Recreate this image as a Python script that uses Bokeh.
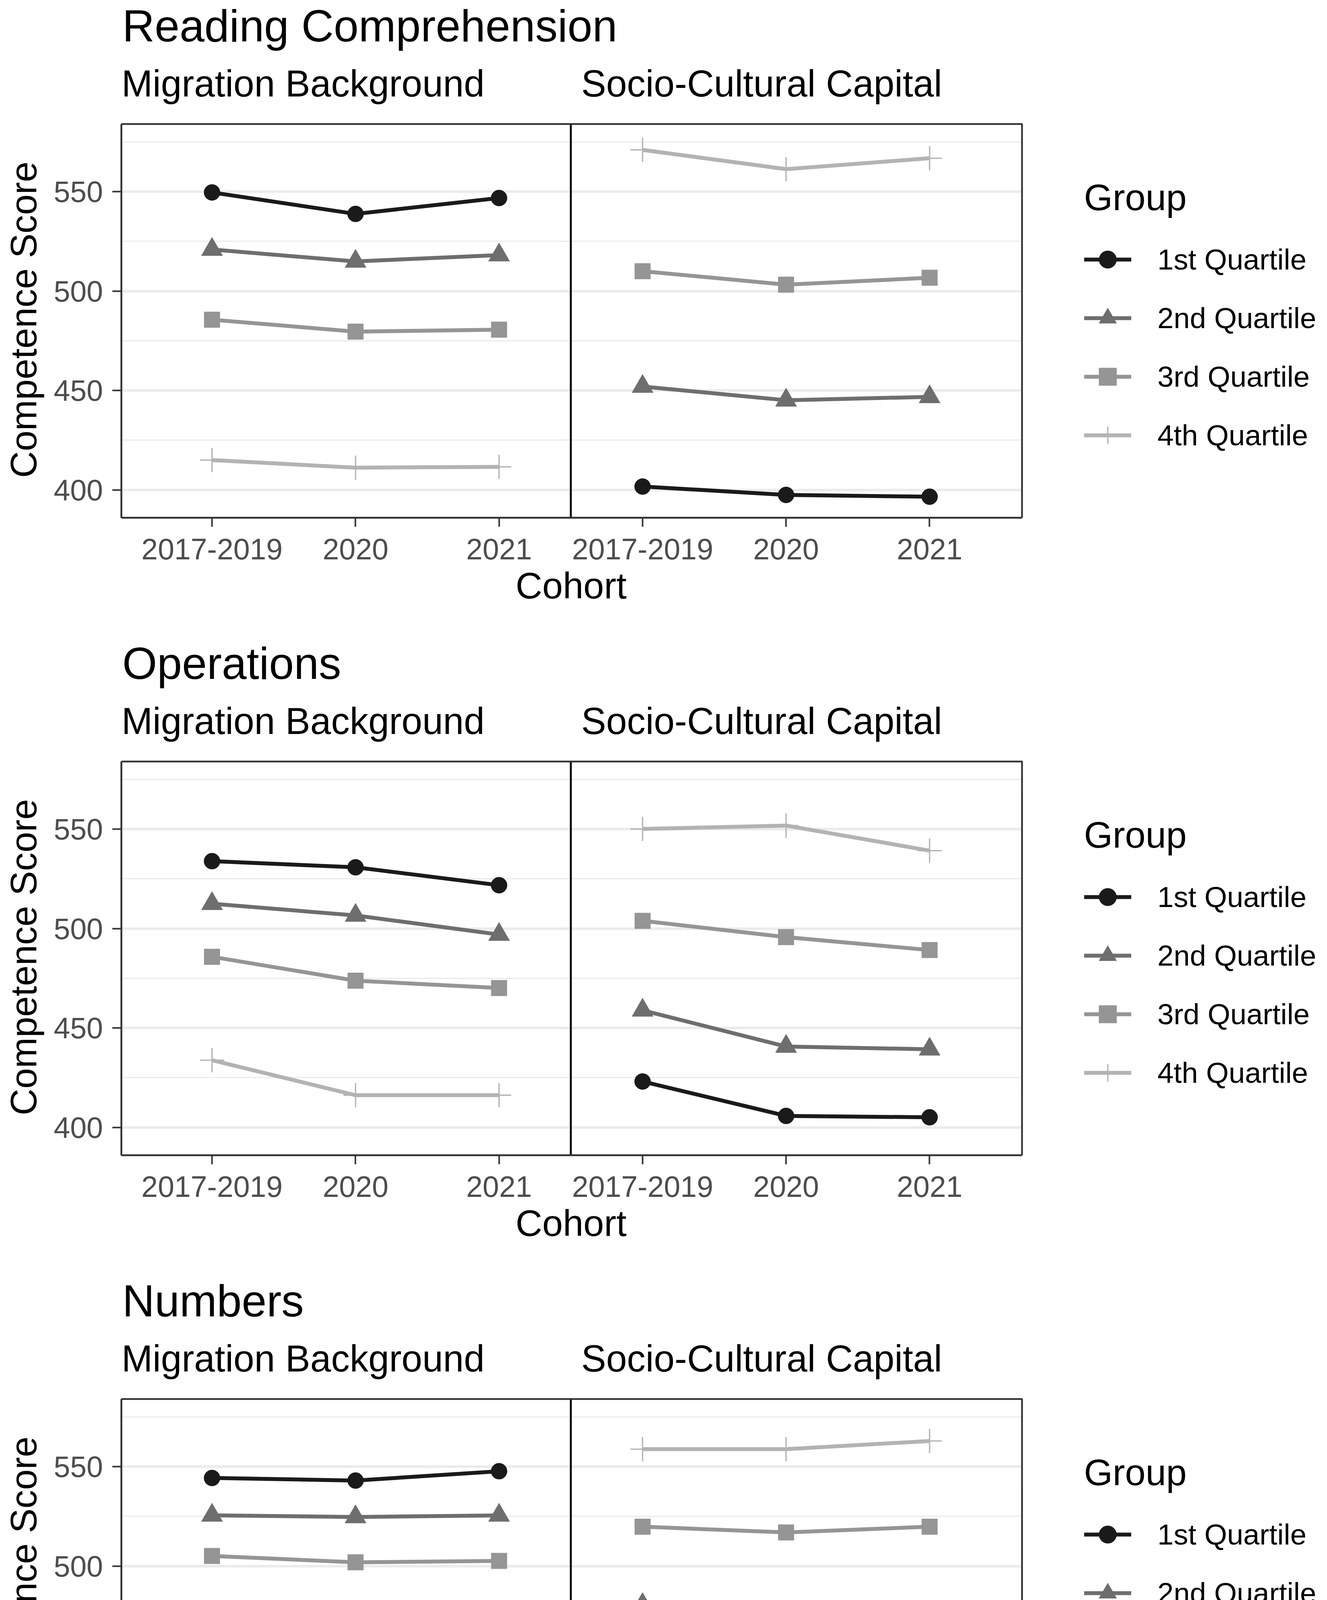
import math
from bokeh.plotting import figure
from bokeh.models import Legend, LegendItem, FixedTicker, Range1d, BoxAnnotation, Title
from bokeh.core.properties import value
from bokeh.layouts import column
from bokeh.embed import file_html
from bokeh.resources import INLINE

# ---------------- data ----------------
subjects = ["Reading Comprehension", "Operations", "Numbers"]
facets = ["Migration Background", "Socio-Cultural Capital"]
cohorts = ["2017-2019", "2020", "2021"]
groups = ["1st Quartile", "2nd Quartile", "3rd Quartile", "4th Quartile"]
y_ticks = [400, 450, 500, 550]
y_minor = [425, 475, 525, 575]

# first three = Migration Background cohorts, last three = Socio-Cultural Capital cohorts
reading_q1 = [549.6, 538.8, 546.8, 401.7, 397.5, 396.6]
reading_q2 = [520.9, 514.9, 518.1, 452.0, 445.1, 446.8]
reading_q3 = [485.6, 479.6, 480.6, 510.0, 503.2, 506.7]
reading_q4 = [415.0, 411.2, 411.6, 571.0, 561.3, 566.8]

operations_q1 = [533.9, 530.8, 521.8, 423.1, 405.8, 405.1]
operations_q2 = [512.5, 506.6, 497.0, 458.9, 440.7, 439.3]
operations_q3 = [485.8, 473.8, 470.1, 503.9, 495.7, 489.2]
operations_q4 = [433.8, 416.2, 416.2, 550.1, 551.8, 539.2]

numbers_q1 = [544.3, 543.0, 547.7, 451.6, 450.9, 442.7]
numbers_q2 = [525.5, 524.7, 525.5, 480.6, 476.2, 476.2]
numbers_q3 = [505.1, 501.9, 502.6, 519.8, 516.9, 519.8]
numbers_q4 = [460.6, 458.9, 454.1, 558.8, 558.8, 562.9]

series = {
    "Reading Comprehension": [reading_q1, reading_q2, reading_q3, reading_q4],
    "Operations": [operations_q1, operations_q2, operations_q3, operations_q4],
    "Numbers": [numbers_q1, numbers_q2, numbers_q3, numbers_q4],
}

# ---------------- style ----------------
FONT = "Liberation Sans"
colors = ["#1A1A1A", "#6E6E6E", "#959595", "#B3B3B3"]
markers = ["circle", "triangle", "square", "cross"]
msizes = [41, 54, 40, 62]

S = 3380 / 3396.0
W = 3380
HEIGHTS = [1632, 1632, 1568]
FL = round(311 * S)      # panel left
FR = round(2627 * S)     # panel right
FT = round(319 * S)      # panel top (within a block)
FB = round(1331 * S)     # panel bottom (within a block)
HT = FT - 6              # header height
X0, X1 = 0.368, 6.644
Y0, Y1 = 386.0, 584.0
KX = (FR - FL) / (X1 - X0)
KY = (FB - FT) / (Y1 - Y0)
X1E = X1 + (W - FR) / KX         # frame extends to the right edge (legend area)
Y1E = Y1 + (FT - HT) / KY        # a few px above the panel top


def fs(v):
    return f"{v * S:.1f}px"


def make_header(subject):
    h = figure(width=W, height=HT, x_range=Range1d(FL, W), y_range=Range1d(HT, 0),
               output_backend="svg", toolbar_location=None,
               x_axis_location=None, y_axis_location=None,
               min_border_left=0, min_border_right=0, min_border_top=0, min_border_bottom=0)
    h.grid.visible = False
    h.outline_line_color = None
    h.background_fill_color = "white"
    h.border_fill_color = "white"
    h.text(x=[314 * S], y=[(107 - 41) * S], text=[subject], text_font=value(FONT),
           text_font_size=fs(115), text_color="black", text_align="left",
           text_baseline="middle")
    h.text(x=[312 * S, 1494 * S], y=[(249 - 34) * S] * 2, text=facets, text_font=value(FONT),
           text_font_size=fs(96), text_color="black", text_align="left",
           text_baseline="middle")
    return h


def make_plot(subject, H):
    HM = H - HT
    p = figure(width=W, height=HM, x_range=Range1d(X0, X1E), y_range=Range1d(Y0, Y1E),
               output_backend="svg", toolbar_location=None,
               min_border_left=FL, min_border_right=0,
               min_border_top=0, min_border_bottom=H - FB)
    p.background_fill_color = "white"
    p.border_fill_color = "white"
    p.outline_line_color = None

    # axes
    p.xaxis.ticker = FixedTicker(ticks=[1, 2, 3, 4, 5, 6])
    p.xaxis.major_label_overrides = {i + 1: cohorts[i % 3] for i in range(6)}
    p.yaxis.ticker = FixedTicker(ticks=y_ticks, minor_ticks=y_minor)
    p.xaxis.bounds = (X0, X1)
    p.yaxis.bounds = (Y0, Y1)
    for ax in (p.xaxis, p.yaxis):
        ax.major_label_text_font = FONT
        ax.major_label_text_font_size = fs(76)
        ax.major_label_text_color = "#4D4D4D"
        ax.major_tick_in = 0
        ax.major_tick_out = 23
        ax.major_tick_line_width = 4
        ax.major_tick_line_color = "#333333"
        ax.minor_tick_line_color = None
        ax.axis_line_color = "#333333"
        ax.axis_line_width = 4.5
        ax.axis_label_text_font = FONT
        ax.axis_label_text_font_size = fs(95)
        ax.axis_label_text_font_style = "normal"
        ax.axis_label_text_color = "black"
    p.xaxis.major_label_standoff = 30
    p.yaxis.major_label_standoff = 24
    p.yaxis.axis_label = "Competence Score"
    p.yaxis.axis_label_standoff = 21

    # x axis title, centred under the panel (not under the legend area)
    text_w = 3.001 * 95 * S
    p.add_layout(Title(text="Cohort", align="left", offset=round(1468 * S - text_w / 2 - FL),
                       text_font=FONT, text_font_size=fs(95), text_font_style="normal",
                       text_color="black", vertical_align="top", standoff=23), "below")

    p.xgrid.visible = False
    p.ygrid.ticker = FixedTicker(ticks=y_ticks, minor_ticks=y_minor)
    p.ygrid.grid_line_color = "#EBEBEB"
    p.ygrid.grid_line_width = 6.5
    p.ygrid.minor_grid_line_color = "#EBEBEB"
    p.ygrid.minor_grid_line_width = 3.2

    # hide grid lines in the legend area (right of the panel)
    p.add_layout(BoxAnnotation(left=X1, right=X1E, bottom=Y0, top=Y1E, fill_color="white",
                               fill_alpha=1.0, line_color=None, level="underlay"))

    # divider between the two facets
    p.segment(x0=[3.5], y0=[Y0], x1=[3.5], y1=[Y1], line_color="black", line_width=5)

    vals = series[subject]
    line_rs = []
    for g in range(4):
        first = None
        for f in range(2):
            xs = [f * 3 + i + 1 for i in range(3)]
            ys = vals[g][f * 3:(f + 1) * 3]
            r = p.line(xs, ys, line_color=colors[g], line_width=10)
            if first is None:
                first = r
        line_rs.append(first)
    mark_rs = []
    for g in range(4):
        xs = list(range(1, 7))
        if markers[g] == "cross":
            r = p.scatter(xs, vals[g], marker="cross", size=msizes[g],
                          line_color=colors[g], line_width=3.3)
        else:
            r = p.scatter(xs, vals[g], marker=markers[g], size=msizes[g],
                          fill_color=colors[g], line_color=colors[g], line_width=1)
        mark_rs.append(r)

    # panel border
    p.add_layout(BoxAnnotation(left=X0, right=X1, bottom=Y0, top=Y1, fill_alpha=0,
                               line_color="#333333", line_alpha=1.0, line_width=4.5))

    items = [LegendItem(label=groups[g], renderers=[line_rs[g], mark_rs[g]]) for g in range(4)]
    leg = Legend(items=items,
                 location=(round((2787 - 311) * S), round((1331 - 1175) * S)),
                 title="Group", title_text_font=FONT, title_text_font_size=fs(95),
                 title_text_font_style="normal", title_text_color="black",
                 title_standoff=48,
                 label_text_font=FONT, label_text_font_size=fs(75), label_text_color="black",
                 glyph_width=121, glyph_height=112, spacing=38, label_standoff=67,
                 padding=0, margin=0, border_line_color=None, background_fill_alpha=0)
    p.add_layout(leg, "center")
    return p


children = []
for s, h in zip(subjects, HEIGHTS):
    children.append(make_header(s))
    children.append(make_plot(s, h))
layout = column(*children, spacing=0)
open("out.html", "w").write(file_html(layout, INLINE))
